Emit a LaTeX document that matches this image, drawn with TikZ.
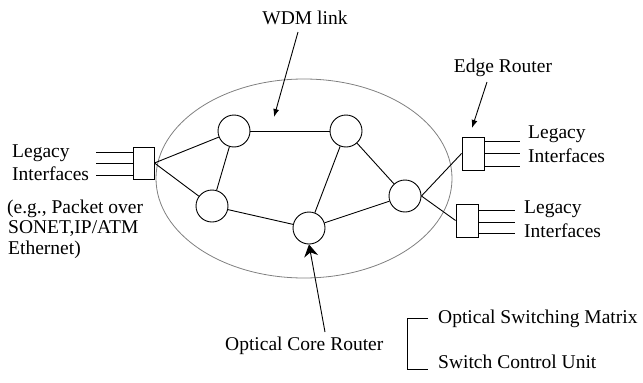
\documentclass[tikz,border=0pt]{standalone}
\usepackage{fontspec}
\setmainfont{Liberation Serif}
\usetikzlibrary{arrows.meta,calc}
\begin{document}
\begin{tikzpicture}[x=1pt,y=-1pt,
  router/.style={circle,draw,line width=0.9pt,minimum size=32pt,inner sep=0pt},
  ebox/.style={rectangle,draw,line width=0.9pt,minimum width=21pt,minimum height=32pt,inner sep=0pt},
  link/.style={line width=0.9pt},
  lbl/.style={font=\fontsize{19.5}{23}\selectfont,inner sep=0pt,anchor=base west},
  ptr/.style={line width=0.9pt,-{Latex[length=8pt,width=6pt]}},
  bigptr/.style={line width=0.9pt,-{Stealth[length=12pt,width=14pt,inset=4pt]}}]
\useasboundingbox (0,0) rectangle (643,383);
% WDM network cloud
\draw[black!50,line width=0.8pt] (304,178.5) ellipse [x radius=148pt, y radius=99.5pt];
% core routers
\node[router] (A) at (234,131) {};
\node[router] (B) at (346,131) {};
\node[router] (C) at (212,206) {};
\node[router] (D) at (309,228) {};
\node[router] (E) at (405,196) {};
% edge routers
\node[ebox] (L) at (143.5,163) {};
\node[ebox,minimum width=22pt,minimum height=33pt] (R1) at (473,153.5) {};
\node[ebox,minimum width=22pt,minimum height=33pt] (R2) at (467,220.5) {};
% links
\draw[link] (L.east) -- (A);
\draw[link] (L.east) -- (C);
\draw[link] (A) -- (B);
\draw[link] (A) -- (C);
\draw[link] (B) -- (D);
\draw[link] (B) -- (E);
\draw[link] (C) -- (D);
\draw[link] (D) -- (E);
\draw[link] (E.east) -- (R1.west);
\draw[link] (E.east) -- (R2.west);
% legacy interface lines
\foreach \d in {-11,0,12} \draw[link] ($(L.west)+(0,\d)$) -- ++(-37,0);
\foreach \d in {-12.5,0,12.5} \draw[link] ($(R1.east)+(0,\d)$) -- ++(36,0);
\foreach \d in {-10.5,1.5,12.5} \draw[link] ($(R2.east)+(0,\d)$) -- ++(37,0);
% texts
\node[lbl] (lg1) at (12,157) {Legacy};
\node[lbl] (if1) at (12,180) {Interfaces};
\node[lbl] (eg1) at (7,213) {(e.g., Packet over};
\node[lbl] (eg2) at (8,233) {SONET,IP/ATM};
\node[lbl] (eg3) at (8,254) {Ethernet)};
\node[lbl] (lg2) at (528,138) {Legacy};
\node[lbl] (if2) at (528,162) {Interfaces};
\node[lbl] (lg3) at (524,213) {Legacy};
\node[lbl] (if3) at (524,237) {Interfaces};
\node[lbl,anchor=base] (wdm) at (305,24) {WDM link};
\node[lbl,anchor=base] (edge) at (503,72) {Edge Router};
\node[lbl] (ocr) at (225,350) {Optical Core Router};
\node[lbl] (osm) at (438,323) {Optical Switching Matrix};
\node[lbl] (scu) at (438,368) {Switch Control Unit};
% pointers
\coordinate (w0) at (298,32);
\coordinate (w1) at (274,117);
\draw[ptr] (w0) -- (w1);
\coordinate (e0) at (487,82);
\coordinate (e1) at (472,128);
\draw[ptr] (e0) -- (e1);
\coordinate (o0) at (325,332);
\draw[bigptr] (o0) -- (D.south);
% legend bracket
\coordinate (k1) at (428,318);
\coordinate (k2) at (428,369);
\draw[link] (k1) -- (407,318) -- (407,369) -- (k2);
\end{tikzpicture}
\end{document}
